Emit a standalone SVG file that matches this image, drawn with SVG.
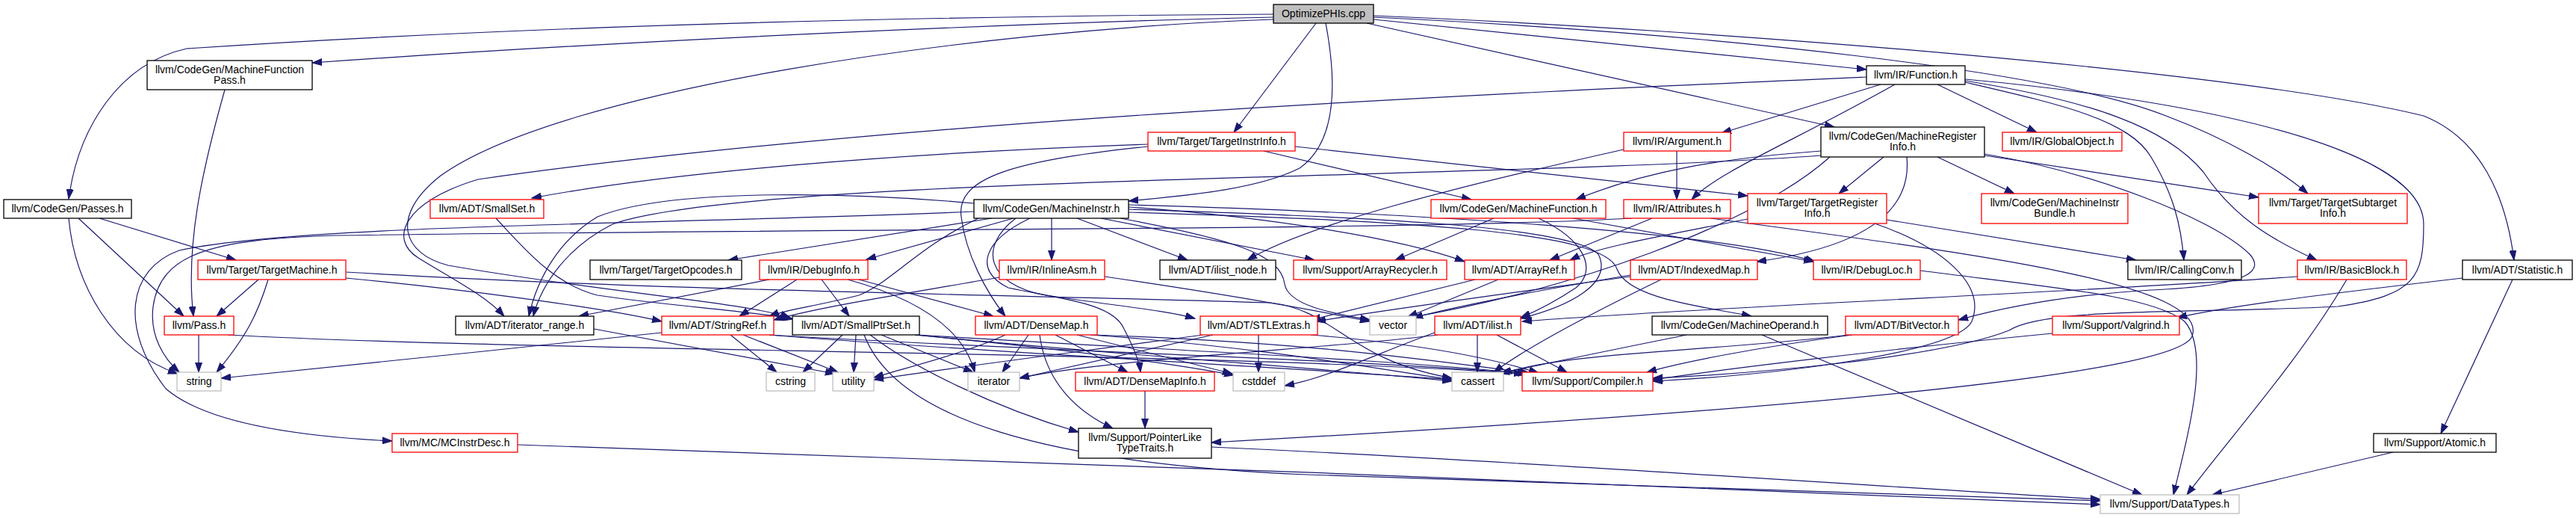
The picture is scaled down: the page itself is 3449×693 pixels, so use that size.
<svg xmlns="http://www.w3.org/2000/svg" width="3449" height="693" viewBox="0 0 3449 693">
<defs>
<style>
.node rect{fill:#fff;stroke-width:1.3}
.r rect{stroke:#ff0000}
.b rect{stroke:#000}
.g rect{stroke:#bfbfbf}
.root rect{fill:#bfbfbf;stroke:#000}
text{font-family:"Liberation Sans",Arial,sans-serif;font-size:14px;fill:#000;text-anchor:middle}
#edges path{fill:none;stroke:#191970;stroke-width:1.2}
</style>
<marker id="ah" markerUnits="userSpaceOnUse" markerWidth="14" markerHeight="10" refX="13" refY="5" orient="auto"><path d="M0,0.5 L13,5 L0,9.5 z" fill="#191970" stroke="#191970" stroke-width="1"/></marker>
</defs>
<rect width="3449" height="693" fill="#fff"/>
<g id="edges" marker-end="url(#ah)">
<path d="M1705,19 C1200,22 700,35 250,65 C160,85 105,170 92,266"/>
<path d="M1705,23 C1400,30 900,50 418,84"/>
<path d="M1775,31 C1790,110 1790,190 1740,225 C1680,255 1580,262 1511,269"/>
<path d="M1762,31 L1652,177"/>
<path d="M1830,31 L2456,170"/>
<path d="M1839,26 L2499,93"/>
<path d="M1839,21 C2300,40 3000,95 3245,155 C3320,185 3355,260 3366,348"/>
<path d="M1839,23 C2300,45 2750,95 2900,155 C2980,185 3050,225 3090,259"/>
<path d="M1705,26 C1300,40 750,120 590,235 C520,290 540,340 600,355 C800,390 1000,405 1058,425"/>
<path d="M301,120 C270,230 248,330 259,423"/>
<path d="M133,292 L316,348"/>
<path d="M105,292 L246,423"/>
<path d="M92,292 C100,380 150,470 238,500"/>
<path d="M346,374 L290,423"/>
<path d="M359,374 C345,420 330,450 290,498"/>
<path d="M463,372 C600,385 800,410 886,430"/>
<path d="M463,364 C900,390 1400,395 1700,405 C1790,415 1800,480 1944,506"/>
<path d="M266,448 L266,498"/>
<path d="M305,448 C700,470 1600,470 2040,500"/>
<path d="M886,445 C700,465 450,490 296,506"/>
<path d="M978,448 L1040,498"/>
<path d="M995,448 L1122,498"/>
<path d="M1030,448 C1300,470 1700,490 1944,508"/>
<path d="M1030,448 C1400,470 1800,480 2045,500"/>
<path d="M795,440 L1118,500"/>
<path d="M1030,374 L775,423"/>
<path d="M1067,374 L990,423"/>
<path d="M1100,374 L1137,423"/>
<path d="M1150,374 L1330,423"/>
<path d="M1135,374 C1230,400 1290,440 1305,498"/>
<path d="M664,292 C700,330 740,380 800,395 C900,410 1000,415 1062,427"/>
<path d="M1304,272 C1150,258 900,250 800,290 C750,320 720,370 708,423"/>
<path d="M1128,448 L1075,498"/>
<path d="M1146,448 L1143,498"/>
<path d="M1180,448 L1303,498"/>
<path d="M1225,448 C1400,465 1550,482 1652,502"/>
<path d="M1225,448 C1500,475 1800,495 1944,510"/>
<path d="M1228,448 C1550,468 1850,480 2045,500"/>
<path d="M1165,448 C1220,490 1330,545 1444,578"/>
<path d="M1157,448 C1200,560 1400,620 1750,635 C2200,650 2600,665 2812,670"/>
<path d="M1346,448 C1300,470 1220,490 1170,505"/>
<path d="M1377,448 L1342,498"/>
<path d="M1413,448 L1510,498"/>
<path d="M1392,448 C1400,510 1440,550 1490,573"/>
<path d="M1442,448 L1650,500"/>
<path d="M1460,448 C1700,465 1850,495 1944,508"/>
<path d="M1465,448 C1750,458 1900,480 2048,499"/>
<path d="M1533,523 L1533,573"/>
<path d="M1622,598 C2000,615 2500,650 2812,668"/>
<path d="M1685,448 L1685,498"/>
<path d="M1610,448 C1450,470 1250,495 1170,508"/>
<path d="M1624,448 L1365,506"/>
<path d="M1755,448 C1900,460 2000,480 2060,499"/>
<path d="M1978,448 L1978,498"/>
<path d="M2004,448 L2098,498"/>
<path d="M1921,445 C1850,470 1780,505 1720,516"/>
<path d="M1925,448 C1800,465 1480,480 1365,506"/>
<path d="M1975,374 L1755,428"/>
<path d="M2006,374 L1885,424"/>
<path d="M2183,370 C2000,395 1850,415 1762,430"/>
<path d="M2183,368 C2050,390 1950,410 1892,425"/>
<path d="M2224,374 C2150,410 2050,460 2000,498"/>
<path d="M1338,371 C1200,395 1100,410 1036,428"/>
<path d="M1479,370 C1650,395 1760,415 1834,430"/>
<path d="M2000,292 L1868,348"/>
<path d="M2060,292 C2120,320 2140,360 2110,385 C2080,405 2060,415 2036,425"/>
<path d="M2106,292 L2428,350"/>
<path d="M2245,202 L2245,267"/>
<path d="M2174,200 C1950,250 1750,300 1670,348"/>
<path d="M2518,113 L2305,178"/>
<path d="M2537,113 C2400,190 2300,230 2265,267"/>
<path d="M2594,113 L2727,177"/>
<path d="M2631,110 C2760,140 2850,160 2880,210 C2910,260 2920,300 2924,348"/>
<path d="M2631,108 C2800,135 2900,170 2950,230 C2990,290 3040,320 3102,348"/>
<path d="M2631,106 C2900,130 3245,190 3245,300 C3245,370 3235,395 3130,410 C2950,420 2740,410 2690,442 C2600,478 2350,500 2213,506"/>
<path d="M2499,103 C2000,125 1200,160 640,240 C540,270 520,320 560,345 C600,370 650,395 675,423"/>
<path d="M3076,370 C2800,390 2300,410 2038,430"/>
<path d="M3142,374 C3080,480 2990,580 2928,662"/>
<path d="M2571,362 C2750,385 2880,395 2925,430 C2960,470 2930,580 2910,662"/>
<path d="M2359,448 L2868,662"/>
<path d="M2258,448 C2150,470 2050,490 2008,500"/>
<path d="M2480,448 C2350,465 2250,485 2205,498"/>
<path d="M2475,448 C2300,470 2100,470 2011,500"/>
<path d="M2748,446 C2500,470 2300,495 2213,508"/>
<path d="M3364,374 L3268,580"/>
<path d="M3297,372 C3100,395 2980,410 2915,425"/>
<path d="M3204,605 L2962,662"/>
<path d="M693,595 C1200,612 2300,650 2812,675"/>
<path d="M1692,202 L1970,267"/>
<path d="M1734,196 L2340,262"/>
<path d="M1537,193 C1200,205 900,230 712,265"/>
<path d="M1537,196 C1350,215 1280,240 1287,290 C1293,340 1320,390 1346,423"/>
<path d="M2526,294 L2860,348"/>
<path d="M2340,293 C2230,315 2140,330 2102,348"/>
<path d="M2212,292 L2075,348"/>
<path d="M2510,299 C2600,330 2660,380 2640,430 C2620,470 2400,500 2213,510"/>
<path d="M2522,210 L2462,259"/>
<path d="M2594,210 L2697,259"/>
<path d="M2553,210 C2560,280 2500,330 2352,350"/>
<path d="M2657,206 C2800,230 2960,290 3012,340 C3030,360 3020,382 2880,388 C2760,395 2680,412 2622,428"/>
<path d="M2657,208 L3024,264"/>
<path d="M2438,202 C2300,212 2200,230 2110,267"/>
<path d="M2438,208 C2000,240 1000,235 820,300 C760,330 725,380 714,423"/>
<path d="M2450,210 C2350,300 2100,390 1880,426"/>
<path d="M1511,277 C1700,290 1880,320 1961,350"/>
<path d="M1379,292 C1320,320 1300,360 1350,385 C1420,400 1490,405 1505,440 C1515,460 1525,480 1527,498"/>
<path d="M1360,292 C1310,330 1320,380 1400,395 C1500,410 1560,415 1600,426"/>
<path d="M1310,292 C1230,330 1190,380 1150,395 C1090,410 1050,415 1030,423"/>
<path d="M1511,280 C1800,290 2100,300 2140,340 C2160,380 2100,410 2036,426"/>
<path d="M1442,292 L1590,348"/>
<path d="M1511,284 C1900,296 2150,310 2165,360 C2180,400 2280,410 2345,423"/>
<path d="M1357,292 L1160,347"/>
<path d="M1511,274 C1900,285 2300,310 2430,350"/>
<path d="M1408,292 L1408,348"/>
<path d="M1304,283 C900,300 400,300 240,335 C170,360 160,440 222,520 C280,570 420,585 525,590"/>
<path d="M1474,292 L1760,348"/>
<path d="M1328,292 L975,348"/>
<path d="M1500,292 C1650,320 1715,340 1720,380 C1725,410 1790,420 1834,428"/>
<path d="M2185,292 C1900,308 1200,305 450,315 C280,320 215,340 205,410 C200,450 220,480 240,498"/>
<path d="M2290,292 C2650,340 2960,380 2935,450 C2910,510 2200,560 1622,592"/>
</g>
<g id="n_cpp" class="node root"><rect x="1705" y="6" width="134" height="25"/><text x="1772" y="23">OptimizePHIs.cpp</text></g>
<g id="n_mfp" class="node b"><rect x="197" y="81" width="221" height="39"/><text x="307.5" y="97.5">llvm/CodeGen/MachineFunction</text><text x="307.5" y="111.5">Pass.h</text></g>
<g id="n_function" class="node b"><rect x="2499" y="88" width="132" height="25"/><text x="2565" y="105">llvm/IR/Function.h</text></g>
<g id="n_tii" class="node r"><rect x="1537" y="177" width="197" height="25"/><text x="1635.5" y="194">llvm/Target/TargetInstrInfo.h</text></g>
<g id="n_argument" class="node r"><rect x="2174" y="177" width="143" height="25"/><text x="2245.5" y="194">llvm/IR/Argument.h</text></g>
<g id="n_mri" class="node b"><rect x="2438" y="170" width="219" height="40"/><text x="2547.5" y="186.5">llvm/CodeGen/MachineRegister</text><text x="2547.5" y="200.5">Info.h</text></g>
<g id="n_globalobject" class="node r"><rect x="2681" y="177" width="160" height="25"/><text x="2761" y="194">llvm/IR/GlobalObject.h</text></g>
<g id="n_passes" class="node b"><rect x="5" y="267" width="171" height="25"/><text x="90.5" y="284">llvm/CodeGen/Passes.h</text></g>
<g id="n_smallset" class="node r"><rect x="576" y="267" width="152" height="25"/><text x="652" y="284">llvm/ADT/SmallSet.h</text></g>
<g id="n_machineinstr" class="node b"><rect x="1304" y="267" width="207" height="25"/><text x="1407.5" y="284">llvm/CodeGen/MachineInstr.h</text></g>
<g id="n_machinefunction" class="node r"><rect x="1916" y="267" width="234" height="25"/><text x="2033" y="284">llvm/CodeGen/MachineFunction.h</text></g>
<g id="n_attributes" class="node r"><rect x="2174" y="267" width="143" height="25"/><text x="2245.5" y="284">llvm/IR/Attributes.h</text></g>
<g id="n_tri" class="node r"><rect x="2340" y="259" width="186" height="40"/><text x="2433" y="275.5">llvm/Target/TargetRegister</text><text x="2433" y="289.5">Info.h</text></g>
<g id="n_mibundle" class="node r"><rect x="2653" y="259" width="196" height="40"/><text x="2751" y="275.5">llvm/CodeGen/MachineInstr</text><text x="2751" y="289.5">Bundle.h</text></g>
<g id="n_tsi" class="node r"><rect x="3024" y="259" width="199" height="40"/><text x="3123.5" y="275.5">llvm/Target/TargetSubtarget</text><text x="3123.5" y="289.5">Info.h</text></g>
<g id="n_tm" class="node r"><rect x="265" y="348" width="198" height="26"/><text x="364" y="366">llvm/Target/TargetMachine.h</text></g>
<g id="n_targetopcodes" class="node b"><rect x="790" y="348" width="203" height="26"/><text x="891.5" y="366">llvm/Target/TargetOpcodes.h</text></g>
<g id="n_debuginfo" class="node r"><rect x="1017" y="348" width="145" height="26"/><text x="1089.5" y="366">llvm/IR/DebugInfo.h</text></g>
<g id="n_inlineasm" class="node r"><rect x="1338" y="348" width="141" height="26"/><text x="1408.5" y="366">llvm/IR/InlineAsm.h</text></g>
<g id="n_ilistnode" class="node b"><rect x="1553" y="348" width="155" height="26"/><text x="1630.5" y="366">llvm/ADT/ilist_node.h</text></g>
<g id="n_arrayrecycler" class="node r"><rect x="1732" y="348" width="205" height="26"/><text x="1834.5" y="366">llvm/Support/ArrayRecycler.h</text></g>
<g id="n_arrayref" class="node r"><rect x="1961" y="348" width="147" height="26"/><text x="2034.5" y="366">llvm/ADT/ArrayRef.h</text></g>
<g id="n_indexedmap" class="node r"><rect x="2183" y="348" width="170" height="26"/><text x="2268" y="366">llvm/ADT/IndexedMap.h</text></g>
<g id="n_debugloc" class="node r"><rect x="2428" y="348" width="143" height="26"/><text x="2499.5" y="366">llvm/IR/DebugLoc.h</text></g>
<g id="n_callingconv" class="node b"><rect x="2849" y="348" width="152" height="26"/><text x="2925" y="366">llvm/IR/CallingConv.h</text></g>
<g id="n_basicblock" class="node r"><rect x="3076" y="348" width="146" height="26"/><text x="3149" y="366">llvm/IR/BasicBlock.h</text></g>
<g id="n_statistic" class="node b"><rect x="3297" y="348" width="147" height="26"/><text x="3370.5" y="366">llvm/ADT/Statistic.h</text></g>
<g id="n_pass" class="node r"><rect x="220" y="423" width="93" height="25"/><text x="266.5" y="440">llvm/Pass.h</text></g>
<g id="n_iteratorrange" class="node b"><rect x="610" y="423" width="185" height="25"/><text x="702.5" y="440">llvm/ADT/iterator_range.h</text></g>
<g id="n_stringref" class="node r"><rect x="886" y="423" width="150" height="25"/><text x="961" y="440">llvm/ADT/StringRef.h</text></g>
<g id="n_smallptrset" class="node b"><rect x="1061" y="423" width="170" height="25"/><text x="1146" y="440">llvm/ADT/SmallPtrSet.h</text></g>
<g id="n_densemap" class="node r"><rect x="1306" y="423" width="163" height="25"/><text x="1387.5" y="440">llvm/ADT/DenseMap.h</text></g>
<g id="n_stlextras" class="node r"><rect x="1607" y="423" width="157" height="25"/><text x="1685.5" y="440">llvm/ADT/STLExtras.h</text></g>
<g id="n_vector" class="node g"><rect x="1834" y="423" width="62" height="25"/><text x="1865" y="440">vector</text></g>
<g id="n_ilist" class="node r"><rect x="1921" y="423" width="115" height="25"/><text x="1978.5" y="440">llvm/ADT/ilist.h</text></g>
<g id="n_machineoperand" class="node b"><rect x="2212" y="423" width="235" height="25"/><text x="2329.5" y="440">llvm/CodeGen/MachineOperand.h</text></g>
<g id="n_bitvector" class="node r"><rect x="2471" y="423" width="151" height="25"/><text x="2546.5" y="440">llvm/ADT/BitVector.h</text></g>
<g id="n_valgrind" class="node r"><rect x="2748" y="423" width="170" height="25"/><text x="2833" y="440">llvm/Support/Valgrind.h</text></g>
<g id="n_string" class="node g"><rect x="237" y="498" width="59" height="25"/><text x="266.5" y="515">string</text></g>
<g id="n_cstring" class="node g"><rect x="1026" y="498" width="65" height="25"/><text x="1058.5" y="515">cstring</text></g>
<g id="n_utility" class="node g"><rect x="1115" y="498" width="55" height="25"/><text x="1142.5" y="515">utility</text></g>
<g id="n_iterator" class="node g"><rect x="1296" y="498" width="69" height="25"/><text x="1330.5" y="515">iterator</text></g>
<g id="n_densemapinfo" class="node r"><rect x="1440" y="498" width="186" height="25"/><text x="1533" y="515">llvm/ADT/DenseMapInfo.h</text></g>
<g id="n_cstddef" class="node g"><rect x="1651" y="498" width="69" height="25"/><text x="1685.5" y="515">cstddef</text></g>
<g id="n_cassert" class="node g"><rect x="1944" y="498" width="69" height="25"/><text x="1978.5" y="515">cassert</text></g>
<g id="n_compiler" class="node r"><rect x="2038" y="498" width="175" height="25"/><text x="2125.5" y="515">llvm/Support/Compiler.h</text></g>
<g id="n_mcinstrdesc" class="node r"><rect x="525" y="580" width="168" height="25"/><text x="609" y="597">llvm/MC/MCInstrDesc.h</text></g>
<g id="n_pltt" class="node b"><rect x="1444" y="573" width="178" height="40"/><text x="1533" y="589.5">llvm/Support/PointerLike</text><text x="1533" y="603.5">TypeTraits.h</text></g>
<g id="n_atomic" class="node b"><rect x="3178" y="580" width="164" height="25"/><text x="3260" y="597">llvm/Support/Atomic.h</text></g>
<g id="n_datatypes" class="node g"><rect x="2812" y="662" width="186" height="25"/><text x="2905" y="679">llvm/Support/DataTypes.h</text></g>
</svg>
